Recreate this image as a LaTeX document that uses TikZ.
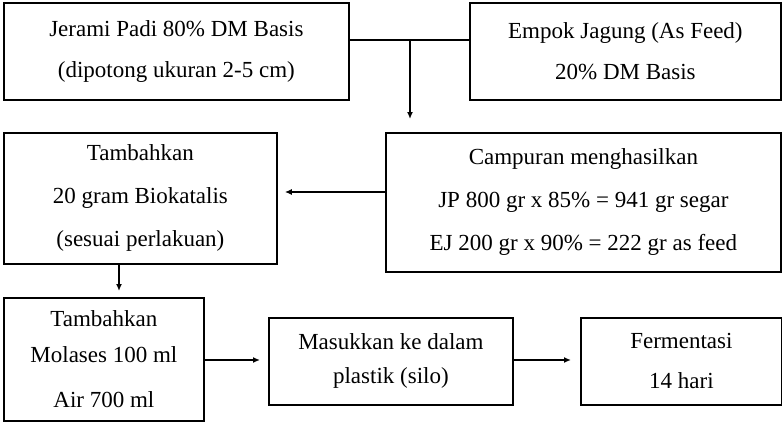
\documentclass[tikz,border=0pt]{standalone}
\usepackage{fontspec}
\setmainfont{Liberation Serif}
\usetikzlibrary{arrows.meta}
\begin{document}
\begin{tikzpicture}[x=1pt,y=-1pt,
  box/.style={draw, line width=1.8pt, rectangle, inner sep=0pt, anchor=north west, align=center},
  txt/.style={font=\fontsize{23}{#1}\selectfont},
  arr/.style={line width=1.6pt, -{Latex[length=7pt,width=6pt]}},
  link/.style={line width=1.6pt}
]
\useasboundingbox (0,0) rectangle (782,421);

\node[box, txt=41, minimum width=345pt, minimum height=97pt] (b1) at (3,2)
  {Jerami Padi 80\% DM Basis\\(dipotong ukuran 2-5 cm)};
\node[box, txt=41, minimum width=311pt, minimum height=97pt] (b2) at (469,2)
  {Empok Jagung (As Feed)\\20\% DM Basis};
\node[box, txt=43, minimum width=395pt, minimum height=139pt] (b5) at (385,132)
  {Campuran menghasilkan\\JP 800 gr x 85\% = 941 gr segar\\EJ 200 gr x 90\% = 222 gr as feed};
\node[box, txt=43, minimum width=273pt, minimum height=131pt] (b4) at (3,132)
  {Tambahkan\\20 gram Biokatalis\\(sesuai perlakuan)};
\node[box, txt=36, minimum width=200pt, minimum height=123pt] (b6) at (3,297)
  {Tambahkan\\Molases 100 ml\\[9pt]Air 700 ml};
\node[box, txt=34, minimum width=244pt, minimum height=87pt] (b7) at (268,317)
  {Masukkan ke dalam\\plastik (silo)};
\node[box, txt=40, minimum width=201pt, minimum height=87pt] (b8) at (580,317)
  {Fermentasi\\14 hari};

\coordinate (j) at (410,40);
\coordinate (m) at (0,192);
\coordinate (d) at (119,0);
\coordinate (h) at (0,360);

\draw[link] (b1.east |- j) -- (b2.west |- j);
\draw[arr, shorten >=13pt] (j) -- (j |- b5.north);
\draw[arr, shorten >=7pt] (b5.west |- m) -- (b4.east |- m);
\draw[arr, shorten >=6pt] (d |- b4.south) -- (d |- b6.north);
\draw[arr, shorten >=8pt] (b6.east |- h) -- (b7.west |- h);
\draw[arr, shorten >=9pt] (b7.east |- h) -- (b8.west |- h);
\end{tikzpicture}
\end{document}
